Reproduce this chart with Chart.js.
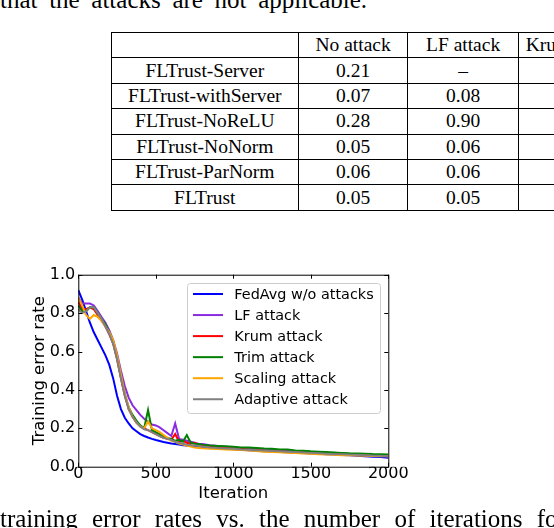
<!DOCTYPE html>
<html>
<head>
<meta charset="utf-8">
<script src="https://cdn.jsdelivr.net/npm/chart.js@4.4.0/dist/chart.umd.min.js"></script>
<style>
    html, body { margin: 0; padding: 0; background: #fff; width: 554px; height: 528px; overflow: hidden; position: relative; }
    .line { position: absolute; white-space: nowrap; font-family: "Liberation Serif", "Times New Roman", serif; font-size: 25px; line-height: 25px; color: #000; }
    #top-line { left: 0; top: -13.5px; word-spacing: 5.4px; }
    #bottom-line { left: 0; top: 505.5px; word-spacing: 8px; }
    table { position: absolute; left: 110.5px; top: 32px; width: 518.6px; border-collapse: collapse; table-layout: fixed; font-family: "Liberation Serif", "Times New Roman", serif; font-size: 19.5px; color: #000; }
    td { border: 1px solid #000; text-align: center; padding: 0; height: 24.4px; line-height: 20px; white-space: nowrap; overflow: hidden; }
    #wrap { position: absolute; left: 20px; top: 262px; width: 534px; height: 250px; }
</style>
</head>
<body>
<div class="line" id="top-line">that the attacks are not applicable.</div>
<table id="tbl">
    <colgroup><col style="width:187.6px"><col style="width:109px"><col style="width:111px"><col style="width:111px"></colgroup>
    <tbody></tbody>
</table>
<div id="wrap"><canvas id="chart" width="534" height="250"></canvas></div>
<div class="line" id="bottom-line">training error rates vs. the number of iterations for</div>

<script>
// table contents
const tableHeader = ['', 'No attack', 'LF attack', 'Krum attack'];
const tableMethods = ['FLTrust-Server', 'FLTrust-withServer', 'FLTrust-NoReLU', 'FLTrust-NoNorm', 'FLTrust-ParNorm', 'FLTrust'];
const noAttack = ['0.21', '0.07', '0.28', '0.05', '0.06', '0.05'];
const lfAttack = ['–', '0.08', '0.90', '0.06', '0.06', '0.05'];

// chart data
const iterations = [0, 25, 50, 75, 100, 125, 150, 175, 200, 225, 250, 275, 300, 325, 350, 375, 400,
    425, 450, 475, 500, 525, 550, 575, 600, 625, 650, 675, 700, 725, 750, 775, 800,
    850, 900, 950, 1000, 1050, 1100, 1150, 1200, 1250, 1300, 1350, 1400, 1450, 1500,
    1550, 1600, 1650, 1700, 1750, 1800, 1850, 1900, 1950, 2000];

const fedAvg = [0.92, 0.87, 0.81, 0.75, 0.70, 0.66, 0.62, 0.58, 0.53, 0.46, 0.37, 0.30, 0.255, 0.225, 0.20, 0.185, 0.17,
    0.16, 0.152, 0.145, 0.139, 0.134, 0.129, 0.125, 0.121, 0.118, 0.115, 0.112, 0.110, 0.108, 0.106, 0.104, 0.102,
    0.099, 0.096, 0.093, 0.091, 0.088, 0.086, 0.083, 0.081, 0.079, 0.077, 0.075, 0.073, 0.071, 0.069,
    0.067, 0.065, 0.063, 0.061, 0.059, 0.057, 0.055, 0.052, 0.050, 0.047];

const lfSeries = [0.88, 0.85, 0.85, 0.85, 0.84, 0.81, 0.78, 0.75, 0.71, 0.66, 0.59, 0.50, 0.42, 0.36, 0.32, 0.295, 0.27,
    0.25, 0.235, 0.22, 0.215, 0.205, 0.19, 0.175, 0.16, 0.225, 0.145, 0.14, 0.135, 0.13, 0.125, 0.12, 0.118,
    0.112, 0.108, 0.104, 0.100, 0.098, 0.095, 0.092, 0.090, 0.087, 0.085, 0.083, 0.081, 0.079, 0.077,
    0.075, 0.072, 0.070, 0.068, 0.066, 0.064, 0.062, 0.060, 0.057, 0.055];

const krumSeries = [0.86, 0.82, 0.82, 0.83, 0.82, 0.79, 0.76, 0.73, 0.69, 0.64, 0.56, 0.46, 0.37, 0.30, 0.26, 0.23, 0.21,
    0.20, 0.19, 0.18, 0.17, 0.16, 0.15, 0.145, 0.14, 0.17, 0.13, 0.135, 0.125, 0.12, 0.125, 0.115, 0.11,
    0.105, 0.100, 0.097, 0.095, 0.093, 0.090, 0.088, 0.085, 0.083, 0.080, 0.079, 0.077, 0.075, 0.073,
    0.071, 0.070, 0.068, 0.066, 0.065, 0.063, 0.061, 0.060, 0.058, 0.056];

const trimSeries = [0.84, 0.81, 0.81, 0.83, 0.83, 0.80, 0.77, 0.74, 0.70, 0.65, 0.57, 0.47, 0.38, 0.31, 0.27, 0.24, 0.215,
    0.20, 0.295, 0.19, 0.18, 0.17, 0.16, 0.15, 0.145, 0.135, 0.14, 0.13, 0.165, 0.125, 0.12, 0.118, 0.115,
    0.110, 0.108, 0.106, 0.104, 0.100, 0.100, 0.098, 0.095, 0.093, 0.090, 0.090, 0.085, 0.083, 0.080,
    0.078, 0.076, 0.074, 0.072, 0.070, 0.069, 0.068, 0.066, 0.065, 0.064];

const scalingSeries = [0.88, 0.84, 0.79, 0.77, 0.79, 0.78, 0.76, 0.73, 0.70, 0.66, 0.58, 0.48, 0.38, 0.31, 0.26, 0.23, 0.21,
    0.20, 0.235, 0.20, 0.19, 0.18, 0.165, 0.15, 0.135, 0.13, 0.12, 0.115, 0.11, 0.105, 0.10, 0.098, 0.096,
    0.094, 0.092, 0.090, 0.088, 0.087, 0.085, 0.082, 0.078, 0.076, 0.075, 0.073, 0.071, 0.069, 0.067,
    0.065, 0.063, 0.062, 0.060, 0.059, 0.058, 0.057, 0.056, 0.055, 0.054];

const adaptiveSeries = [0.82, 0.80, 0.81, 0.83, 0.83, 0.80, 0.77, 0.73, 0.69, 0.64, 0.56, 0.46, 0.37, 0.30, 0.26, 0.23, 0.21,
    0.195, 0.19, 0.18, 0.17, 0.16, 0.15, 0.145, 0.14, 0.13, 0.125, 0.12, 0.115, 0.112, 0.11, 0.108, 0.105,
    0.100, 0.097, 0.095, 0.093, 0.090, 0.088, 0.086, 0.084, 0.082, 0.080, 0.078, 0.076, 0.074, 0.072,
    0.070, 0.068, 0.066, 0.065, 0.063, 0.062, 0.060, 0.058, 0.057, 0.055];

const seriesNames = ['FedAvg w/o attacks', 'LF attack', 'Krum attack', 'Trim attack', 'Scaling attack', 'Adaptive attack'];
const seriesValues = [fedAvg, lfSeries, krumSeries, trimSeries, scalingSeries, adaptiveSeries];
const xTicks = [0, 500, 1000, 1500, 2000];
const yTicks = [0, 0.2, 0.4, 0.6, 0.8, 1.0];

const seriesColors = ['#0000ff', '#8a2be2', '#ff0000', '#008000', '#ffa500', '#808080'];
const FONT = '"DejaVu Sans", sans-serif';

// build the table
const tbody = document.querySelector('#tbl tbody');
const addRow = cells => {
    const tr = document.createElement('tr');
    cells.forEach(c => {
        const td = document.createElement('td');
        td.textContent = c;
        tr.appendChild(td);
    });
    tbody.appendChild(tr);
};
addRow(tableHeader);
tableMethods.forEach((m, i) => addRow([m, noAttack[i], lfAttack[i], '']));

// frame, inward ticks and legend like matplotlib
const framePlugin = {
    id: 'frame',
    afterDatasetsDraw(chart) {
        const { ctx, chartArea: a, scales: { x, y } } = chart;
        ctx.save();
        ctx.strokeStyle = '#000';
        ctx.lineWidth = 1;
        ctx.strokeRect(a.left + 0.5, a.top + 0.5, a.right - a.left, a.bottom - a.top);
        ctx.beginPath();
        xTicks.forEach(v => {
            const px = Math.round(x.getPixelForValue(v)) + 0.5;
            ctx.moveTo(px, a.bottom); ctx.lineTo(px, a.bottom - 4);
            ctx.moveTo(px, a.top); ctx.lineTo(px, a.top + 4);
        });
        yTicks.forEach(v => {
            const py = Math.round(y.getPixelForValue(v)) + 0.5;
            ctx.moveTo(a.left, py); ctx.lineTo(a.left + 4, py);
            ctx.moveTo(a.right, py); ctx.lineTo(a.right - 4, py);
        });
        ctx.stroke();

        // legend box
        const bx = a.left + 108.7, by = a.top + 8.3, bw = a.right - 8.3 - bx, bh = 130;
        ctx.beginPath();
        ctx.roundRect(bx + 0.5, by + 0.5, bw, bh, 3);
        ctx.fillStyle = 'rgba(255,255,255,0.8)';
        ctx.fill();
        ctx.strokeStyle = '#cccccc';
        ctx.stroke();
        ctx.font = '14.4px ' + FONT;
        ctx.textBaseline = 'middle';
        ctx.fillStyle = '#000';
        seriesNames.forEach((name, i) => {
            const ly = by + 11 + i * 21.05;
            ctx.beginPath();
            ctx.strokeStyle = seriesColors[i];
            ctx.lineWidth = 2;
            ctx.moveTo(a.left + 114.7, ly);
            ctx.lineTo(a.left + 144.7, ly);
            ctx.stroke();
            ctx.fillText(name, a.left + 156, ly + 1);
        });
        ctx.restore();
    }
};

const ctx = document.getElementById('chart').getContext('2d');
new Chart(ctx, {
    type: 'line',
    data: {
        datasets: seriesValues.map((vals, idx) => ({
            label: seriesNames[idx],
            data: iterations.map((it, i) => ({ x: it, y: vals[i] })),
            borderColor: seriesColors[idx],
            backgroundColor: 'transparent',
            borderWidth: 2,
            pointRadius: 0,
            tension: 0,
            fill: false,
            order: seriesNames.length - idx
        }))
    },
    options: {
        responsive: false,
        maintainAspectRatio: false,
        animation: false,
        layout: { padding: { top: 12.7, right: 165.7, bottom: 0, left: 0 } },
        scales: {
            x: {
                type: 'linear',
                min: 0,
                max: 2000,
                grid: { display: false, drawTicks: false },
                border: { display: false },
                afterBuildTicks: s => { s.ticks = xTicks.map(v => ({ value: v })); },
                afterFit: s => { s.height = 45.3; },
                ticks: {
                    autoSkip: false,
                    maxRotation: 0,
                    padding: -2,
                    color: '#000',
                    font: { family: FONT, size: 16 },
                    callback: v => String(v)
                },
                title: {
                    display: true,
                    text: 'Iteration',
                    color: '#000',
                    font: { family: FONT, size: 16.5 },
                    padding: { top: 0, bottom: 8 }
                }
            },
            y: {
                min: 0,
                max: 1,
                grid: { display: false, drawTicks: false },
                border: { display: false },
                afterBuildTicks: s => { s.ticks = yTicks.map(v => ({ value: v })); },
                afterFit: s => { s.width = 58.3; },
                ticks: {
                    padding: 3,
                    color: '#000',
                    font: { family: FONT, size: 16 },
                    callback: v => v.toFixed(1)
                },
                title: {
                    display: true,
                    text: 'Training error rate',
                    color: '#000',
                    font: { family: FONT, size: 16.5 },
                    padding: { top: 10, bottom: 0 }
                }
            }
        },
        plugins: {
            legend: { display: false },
            tooltip: { enabled: false }
        }
    },
    plugins: [framePlugin]
});
</script>
</body>
</html>
